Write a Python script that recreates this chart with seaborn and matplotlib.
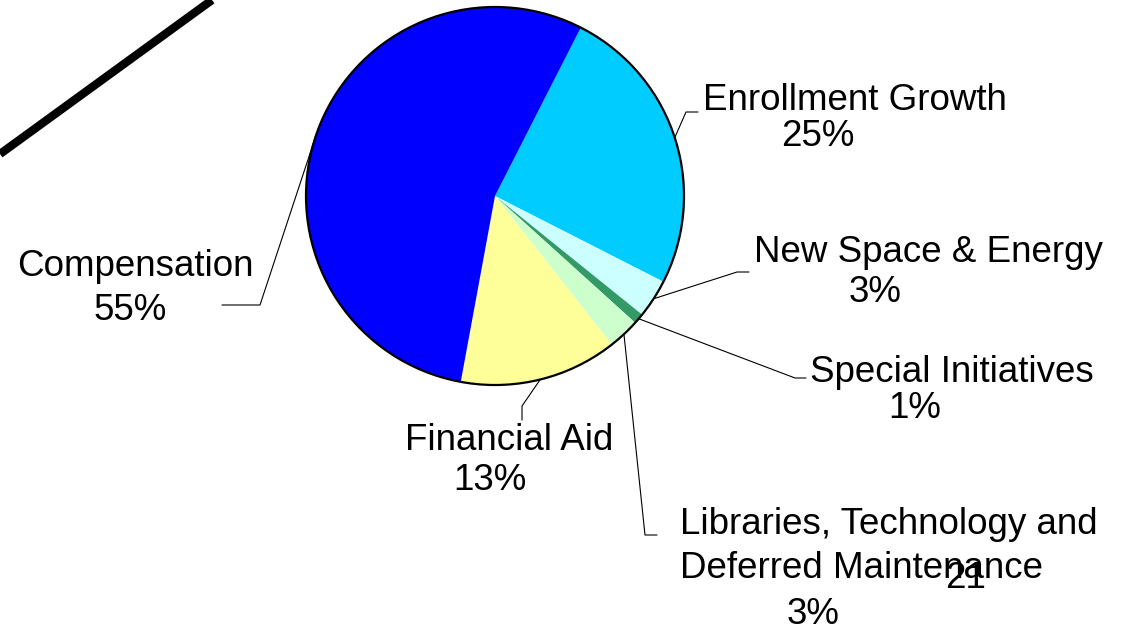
import matplotlib
matplotlib.use("Agg")
import matplotlib.pyplot as plt
import seaborn as sns
import numpy as np

# ---- data ----
categories = ["Enrollment Growth", "New Space & Energy", "Special Initiatives",
              "Libraries, Technology and Deferred Maintenance", "Financial Aid", "Compensation"]
values = [25.0, 3.3, 0.9, 2.7, 13.5, 54.6]
pct_labels = ["25%", "3%", "1%", "3%", "13%", "55%"]
colors = ["#00CCFF", "#CCFFFF", "#339966", "#CCFFCC", "#FFFF99", "#0000FF"]
page_number = "21"

sns.set_theme(style="white")
plt.rcParams['font.family'] = ['Liberation Sans', 'DejaVu Sans']

W, H = 1123, 631
fig = plt.figure(figsize=(W / 100, H / 100), dpi=100)
ax = fig.add_axes([0, 0, 1, 1])

def Y(y):  # convert top-based pixel y to data y
    return H - y

cx, cy, R = 495, 196, 189
startangle = 63
wedges, _ = ax.pie(values, colors=colors, startangle=startangle, counterclock=False,
                   center=(cx, Y(cy)), radius=R, frame=True,
                   wedgeprops=dict(linewidth=0, edgecolor="none"))
ax.set_xlim(0, W)
ax.set_ylim(0, H)
ax.set_aspect("equal")
ax.axis("off")
circle = plt.Circle((cx, Y(cy)), R, fill=False, edgecolor="black", linewidth=1.6)
ax.add_patch(circle)

fs = 26.5
layout = {
    "Enrollment Growth": dict(elbow=(686, 112), end=(698, 112),
                              lines=[("Enrollment Growth", 855, 100, "center"), (pct_labels[0], 818, 137, "center")]),
    "New Space & Energy": dict(elbow=(737, 272), end=(749, 272),
                               lines=[("New Space & Energy", 928, 252, "center"), (pct_labels[1], 875, 293, "center")]),
    "Special Initiatives": dict(elbow=(795, 378), end=(806, 378),
                                lines=[("Special Initiatives", 952, 373, "center"), (pct_labels[2], 915, 409, "center")]),
    "Libraries, Technology and Deferred Maintenance": dict(elbow=(645, 535), end=(657, 535),
                                lines=[("Libraries, Technology and", 680, 524, "left"),
                                       ("Deferred Maintenance", 680, 569, "left"),
                                       (pct_labels[3], 813, 614, "center")]),
    "Financial Aid": dict(elbow=(522, 406), end=(522, 420),
                          lines=[("Financial Aid", 509, 441, "center"), (pct_labels[4], 490, 481, "center")]),
    "Compensation": dict(elbow=(260, 305), end=(222, 305),
                         lines=[("Compensation", 135, 266, "center"), (pct_labels[5], 130, 310, "center")]),
}

for w, cat in zip(wedges, categories):
    mid = np.deg2rad((w.theta1 + w.theta2) / 2)
    px = cx + R * np.cos(mid)
    py = Y(cy) + R * np.sin(mid)
    L = layout[cat]
    ex, ey = L["elbow"]
    tx, ty = L["end"]
    ax.plot([px, ex, tx], [py, Y(ey), Y(ty)], color="black", linewidth=0.8)
    for txt, x, y, ha in L["lines"]:
        ax.text(x, Y(y), txt, ha=ha, va="center", fontsize=fs, color="black")

# decorative diagonal line and page number
ax.plot([0, 212], [Y(154), Y(0)], color="black", linewidth=6, solid_capstyle="butt")
ax.text(966, Y(578), page_number, ha="center", va="center", fontsize=fs, color="black")

fig.savefig("out.png", dpi=100)
